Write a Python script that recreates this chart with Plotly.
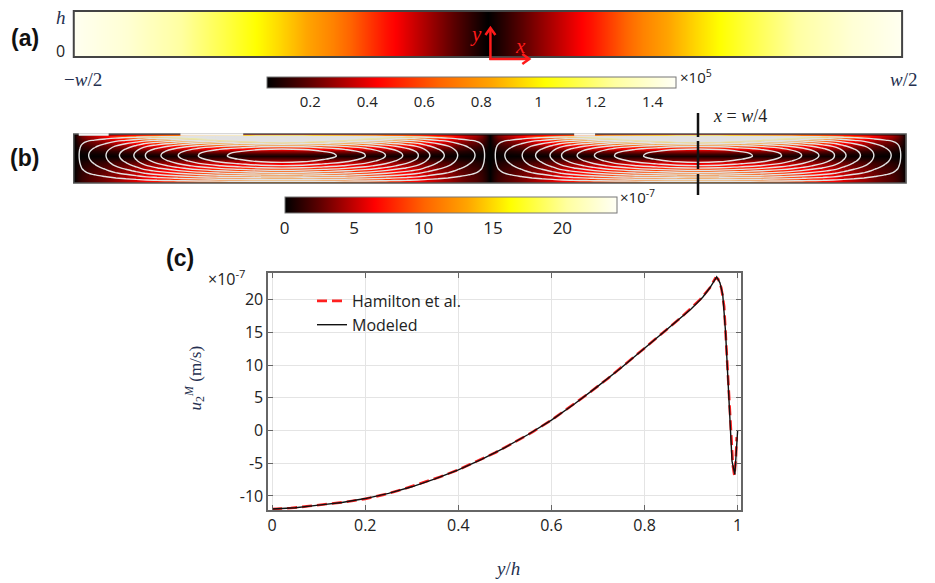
import numpy as np
import plotly.graph_objects as go

W, H = 935, 583

# ---------------- data ----------------
# (a) field along the channel width, x in units of w (x10^5)
a_x = [-0.5, -0.4375, -0.375, -0.3125, -0.25, -0.1875, -0.125, -0.0625, 0.0,
       0.0625, 0.125, 0.1875, 0.25, 0.3125, 0.375, 0.4375, 0.5]
a_val = [1.47, 1.40, 1.28, 1.12, 0.94, 0.74, 0.48, 0.27, 0.05,
         0.27, 0.48, 0.74, 0.94, 1.12, 1.28, 1.40, 1.47]

# (c) streaming velocity profile at x = w/4 (x10^-7 m/s)
model_yh = [0, 0.05, 0.1, 0.15, 0.2, 0.25, 0.3, 0.35, 0.4, 0.45, 0.5, 0.55, 0.6,
            0.65, 0.7, 0.75, 0.8, 0.85, 0.9, 0.925, 0.94, 0.955, 0.962, 0.968,
            0.974, 0.979, 0.985, 0.988, 0.994, 0.997, 1.0]
model_u = [-12.0, -11.8, -11.4, -11.0, -10.4, -9.6, -8.6, -7.4, -6.0, -4.4, -2.6,
           -0.6, 1.6, 4.1, 6.8, 9.6, 12.6, 15.6, 18.6, 20.4, 21.8, 23.5, 22.6,
           20.8, 15.1, 8.1, 0.5, -4.7, -6.7, -3.8, 0.0]

ham_yh = [0, 0.04, 0.08, 0.12, 0.16, 0.2, 0.24, 0.28, 0.32, 0.36, 0.4, 0.44, 0.48,
          0.52, 0.56, 0.6, 0.64, 0.68, 0.72, 0.76, 0.8, 0.84, 0.88, 0.92, 0.94,
          0.952, 0.958, 0.965, 0.971, 0.976, 0.981, 0.986, 0.990, 0.993, 0.996, 0.998]
ham_u = [-12.0, -11.85, -11.55, -11.25, -10.9, -10.45, -9.8, -9.0, -8.1, -7.1, -6.0,
         -4.7, -3.35, -1.8, -0.2, 1.6, 3.6, 5.7, 7.9, 10.2, 12.6, 15.0, 17.4, 20.1,
         21.8, 23.3, 23.2, 21.8, 19.0, 12.5, 5.5, -0.5, -5.5, -6.9, -4.5, -1.0]

# (b) horizontal shape of one streaming roll (fraction of roll length -> amplitude)
roll_s = [0, 0.01, 0.02, 0.035, 0.05, 0.075, 0.1, 0.125, 0.15, 0.175, 0.2, 0.25,
          0.3, 0.35, 0.4, 0.45, 0.5, 0.55, 0.6, 0.65, 0.7, 0.75, 0.8, 0.825, 0.85,
          0.875, 0.9, 0.925, 0.95, 0.965, 0.98, 0.99, 1.0]
roll_g = [0, 0.075, 0.13, 0.18, 0.21, 0.265, 0.34, 0.40, 0.47, 0.555, 0.615, 0.725,
          0.82, 0.89, 0.94, 0.985, 1.0, 0.985, 0.94, 0.89, 0.82, 0.725, 0.615, 0.555,
          0.47, 0.40, 0.34, 0.265, 0.21, 0.18, 0.13, 0.075, 0]

cb_a_ticks = [0.2, 0.4, 0.6, 0.8, 1.0, 1.2, 1.4]
cb_a_text = ["0.2", "0.4", "0.6", "0.8", "1", "1.2", "1.4"]
cb_b_ticks = [0, 5, 10, 15, 20]
c_xticks = [0, 0.2, 0.4, 0.6, 0.8, 1]
c_xtext = ["0", "0.2", "0.4", "0.6", "0.8", "1"]
c_yticks = [-10, -5, 0, 5, 10, 15, 20]
c_ytext = ["-10", "-5", "0", "5", "10", "15", "20"]

# ---------------- helpers ----------------
def px(x):
    return x / W


def py(y):
    return 1 - y / H


heat = [[0.0, "#000000"], [0.1, "#5a0000"], [0.27, "#ff0000"], [0.42, "#ff6400"],
        [0.55, "#ffa500"], [0.68, "#ffff00"], [0.85, "#ffffa0"], [1.0, "#fffff6"]]

SANS = "Open Sans, DejaVu Sans, sans-serif"
SERIF = "Liberation Serif, DejaVu Serif, serif"
BOLD = "Liberation Sans, Arial, sans-serif"
MATH = "#253050"
ARROW = "#ff1a1a"

# (b) field: two counter-rotating rolls built from the roll shape and the profile
s = np.array(roll_s)
g = np.array(roll_g)
bx = np.concatenate([-0.5 + 0.5 * s, 0.5 * s[1:]])
bg = np.concatenate([g, g[1:]])
yv = np.array(model_yh)
uv = np.array(model_u)
psi = -np.concatenate([[0.0], np.cumsum(0.5 * (uv[1:] + uv[:-1]) * np.diff(yv))])
psi = psi / psi.max()
speed = np.abs(np.outer(uv, bg))
stream = np.outer(psi, bg)

fig = go.Figure()

# (a)
fig.add_trace(go.Heatmap(
    x=a_x, y=[0, 1], z=[a_val, a_val], xaxis="x", yaxis="y",
    colorscale=heat, zmin=0.05, zmax=1.484, zsmooth="best", showlegend=False,
    colorbar=dict(orientation="h", x=px((268 + 677) / 2), xanchor="center",
                  y=py(77), yanchor="top", len=409, lenmode="pixels",
                  thickness=11, thicknessmode="pixels", xpad=0, ypad=0,
                  outlinewidth=1, outlinecolor="#777",
                  tickvals=cb_a_ticks, ticktext=cb_a_text, ticks="",
                  tickfont=dict(family=SANS, size=15, color="#222")),
))

# (b)
fig.add_trace(go.Heatmap(
    x=bx, y=yv, z=speed, xaxis="x2", yaxis="y2", showlegend=False,
    colorscale=heat, zmin=0, zmax=23.9, zsmooth="best",
    colorbar=dict(orientation="h", x=px((285 + 617) / 2), xanchor="center",
                  y=py(197), yanchor="top", len=332, lenmode="pixels",
                  thickness=16, thicknessmode="pixels", xpad=0, ypad=0,
                  outlinewidth=1, outlinecolor="#777",
                  tickvals=cb_b_ticks, ticks="",
                  tickfont=dict(family=SANS, size=17, color="#222")),
))
fig.add_trace(go.Contour(
    x=bx, y=yv, z=stream, xaxis="x2", yaxis="y2", showscale=False, showlegend=False,
    contours=dict(coloring="none", start=1 / 11, end=10 / 11, size=1 / 11),
    line=dict(color="#e2e2e2", width=1.4, smoothing=1.3), hoverinfo="skip",
))

# (c)
fig.add_trace(go.Scatter(
    x=ham_yh, y=ham_u, xaxis="x3", yaxis="y3", mode="lines",
    name="Hamilton et al.", line=dict(color="#ff2020", width=2.6, dash="10px,5px"),
))
fig.add_trace(go.Scatter(
    x=model_yh, y=model_u, xaxis="x3", yaxis="y3", mode="lines",
    name="Modeled", line=dict(color="#111111", width=1.4),
))

hidden = dict(visible=False, fixedrange=True)
fig.update_layout(
    width=W, height=H, margin=dict(l=0, r=0, t=0, b=0),
    paper_bgcolor="white", plot_bgcolor="white",
    xaxis=dict(domain=[px(73), px(904)], range=[-0.5, 0.5], anchor="y", **hidden),
    yaxis=dict(domain=[py(57), py(11)], range=[0, 1], anchor="x", **hidden),
    xaxis2=dict(domain=[px(73), px(908)], range=[-0.5, 0.5], anchor="y2", **hidden),
    yaxis2=dict(domain=[py(183), py(134)], range=[0, 1], anchor="x2", **hidden),
    xaxis3=dict(domain=[px(268), px(742)], range=[-0.0086, 1.0064], anchor="y3",
                tickvals=c_xticks, ticktext=c_xtext, ticks="inside", ticklen=5,
                tickcolor="#666", showline=True, linecolor="#666", linewidth=1.5,
                mirror="ticks", showgrid=True, gridcolor="#e4e4e4", zeroline=False,
                tickfont=dict(family=SANS, size=16, color="#222")),
    yaxis3=dict(domain=[py(510), py(273)], range=[-12.15, 24.1], anchor="x3",
                tickvals=c_yticks, ticktext=c_ytext, ticks="inside", ticklen=5,
                tickcolor="#666", showline=True, linecolor="#666", linewidth=1.5,
                mirror="ticks", showgrid=True, gridcolor="#e4e4e4", zeroline=False,
                tickfont=dict(family=SANS, size=16, color="#222")),
    legend=dict(x=px(312), y=py(284), xanchor="left", yanchor="top",
                bgcolor="rgba(0,0,0,0)", font=dict(family=SANS, size=16, color="#222"),
                itemwidth=30, tracegroupgap=0),
    showlegend=True,
)

# frames around the two field panels
fig.add_shape(type="rect", xref="paper", yref="paper",
              x0=px(73), x1=px(904), y0=py(57), y1=py(11),
              line=dict(color="#444", width=2))
fig.add_shape(type="rect", xref="paper", yref="paper",
              x0=px(73), x1=px(908), y0=py(183), y1=py(134),
              line=dict(color="#555", width=1.5))
# unpainted stretches along the top edge of (b)
for x0, x1 in [(78, 108), (180, 243), (575, 596)]:
    fig.add_shape(type="line", xref="paper", yref="paper", x0=px(x0), x1=px(x1),
                  y0=py(134.5), y1=py(134.5), line=dict(color="#f4f4f4", width=2.5))
# cut line x = w/4
for y0, y1 in [(113, 137), (141, 169), (174, 195)]:
    fig.add_shape(type="line", xref="x2", yref="paper", x0=0.25, x1=0.25,
                  y0=py(y1), y1=py(y0), line=dict(color="#111", width=2.5))

# coordinate arrows at the channel centre
def seg(pts):
    path = "M " + " L ".join(f"{px(a):.5f},{py(b):.5f}" for a, b in pts)
    fig.add_shape(type="path", path=path, xref="paper", yref="paper",
                  line=dict(color=ARROW, width=2.5))


seg([(491, 60), (491, 28)])
seg([(486, 35), (491, 28), (496, 35)])
seg([(490, 59), (530, 59)])
seg([(523, 54), (530, 59), (523, 64)])


def note(text, x, y, size=16, family=SANS, color="#222", xanchor="center", **kw):
    fig.add_annotation(text=text, x=px(x), y=py(y), xref="paper", yref="paper",
                       showarrow=False, xanchor=xanchor, yanchor="middle",
                       font=dict(family=family, size=size, color=color), **kw)


note("<b>(a)</b>", 24, 38, size=23, family=BOLD, color="#111")
note("<b>(b)</b>", 24, 158, size=23, family=BOLD, color="#111")
note("<b>(c)</b>", 180, 258, size=23, family=BOLD, color="#111")
note("<i>h</i>", 60, 18, size=19, family=SERIF, color=MATH)
note("0", 60, 51, size=16)
note("\u2212<i>w</i>/2", 82, 79, size=19, family=SERIF, color=MATH)
note("<i>w</i>/2", 905, 79, size=19, family=SERIF, color=MATH)
note("<i>x</i> = <i>w</i>/4", 741, 116, size=18, family=SERIF, color="#222")
note("\u00d710<sup>5</sup>", 679, 76, size=15, xanchor="left")
note("\u00d710<sup>-7</sup>", 619, 196, size=15, xanchor="left")
note("\u00d710<sup>-7</sup>", 206, 278, size=16, xanchor="left")
note("<i>u</i><sub>2</sub><sup><i>M</i></sup> (m/s)", 194, 378, size=17,
     family=SERIF, color=MATH, textangle=-90)
note("<i>y</i>/<i>h</i>", 508, 568, size=19, family=SERIF, color=MATH)
note("<i>y</i>", 477, 34, size=21, family=SERIF, color=ARROW)
note("<i>x</i>", 521, 46, size=21, family=SERIF, color=ARROW)

fig.write_html("out.html")
